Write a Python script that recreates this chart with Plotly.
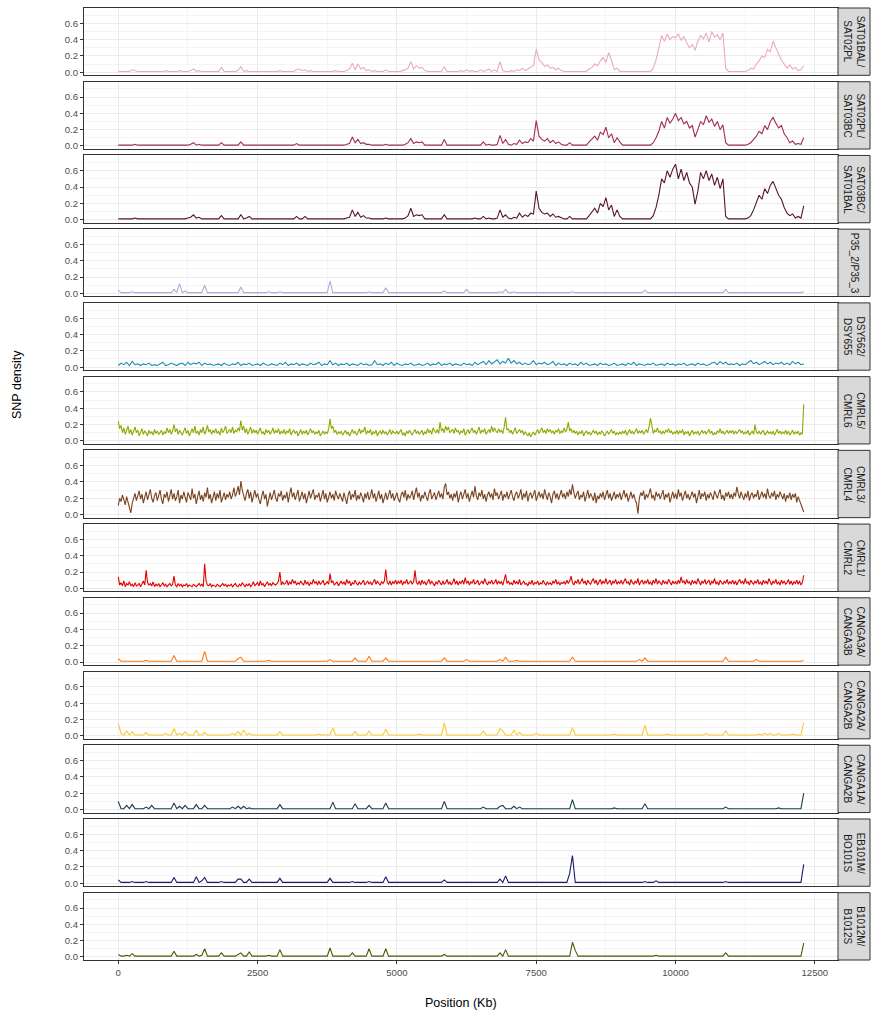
import plotly.graph_objects as go

# ---------------- data ----------------
# window start positions (Kb)
POS50 = list(range(0, 12301, 50))
POS25 = list(range(0, 12301, 25))

LABELS = [
    "SAT01BAL/<br>SAT02PL", "SAT02PL/<br>SAT03BC", "SAT03BC/<br>SAT01BAL",
    "P35_2/P35_3", "DSY562/<br>DSY655", "CMRL5/<br>CMRL6", "CMRL3/<br>CMRL4",
    "CMRL1/<br>CMRL2", "CANGA3A/<br>CANGA3B", "CANGA2A/<br>CANGA2B",
    "CANGA1A/<br>CANGA2B", "EB101M/<br>BO101S", "B1012M/<br>B1012S",
]

COLORS = ["#EBA9C4", "#A02B5C", "#561532", "#B9A6E0", "#1A8FAE", "#8BAA00",
          "#7A4320", "#E00000", "#FF7A12", "#FFC933", "#173F4C", "#1A1A72",
          "#4B5A00"]

SAT1 = [
    0.01,0.01,0.01,0.01,0.01,0.03,0.02,0.01,0.01,0.01,0.01,0.01,0.01,0.01,0.01,0.01,0.01,0.02,0.01,0.01,
    0.01,0.01,0.02,0.01,0.01,0.01,0.02,0.04,0.01,0.02,0.01,0.01,0.01,0.01,0.01,0.01,0.01,0.06,0.01,0.01,
    0.01,0.01,0.01,0.02,0.07,0.01,0.02,0.01,0.01,0.01,0.01,0.01,0.01,0.01,0.01,0.01,0.01,0.01,0.02,0.01,
    0.01,0.01,0.01,0.01,0.03,0.04,0.02,0.03,0.01,0.02,0.01,0.01,0.01,0.01,0.01,0.01,0.01,0.01,0.02,0.01,
    0.01,0.01,0.02,0.04,0.11,0.03,0.10,0.04,0.06,0.02,0.03,0.01,0.02,0.01,0.01,0.01,0.03,0.01,0.01,0.01,
    0.01,0.01,0.02,0.03,0.05,0.13,0.04,0.08,0.05,0.06,0.02,0.01,0.01,0.01,0.01,0.01,0.01,0.07,0.01,0.01,
    0.01,0.01,0.01,0.02,0.01,0.03,0.01,0.02,0.01,0.01,0.03,0.01,0.02,0.04,0.01,0.03,0.01,0.13,0.02,0.01,
    0.01,0.02,0.01,0.03,0.02,0.05,0.02,0.04,0.06,0.08,0.28,0.15,0.12,0.07,0.09,0.05,0.06,0.03,0.05,0.02,
    0.01,0.01,0.01,0.01,0.01,0.01,0.01,0.01,0.01,0.04,0.06,0.10,0.08,0.14,0.18,0.12,0.24,0.15,0.03,0.05,
    0.01,0.01,0.01,0.01,0.01,0.01,0.01,0.01,0.01,0.01,0.01,0.01,0.05,0.15,0.30,0.45,0.38,0.47,0.40,0.44,
    0.42,0.47,0.39,0.44,0.36,0.30,0.34,0.27,0.38,0.45,0.41,0.48,0.37,0.50,0.43,0.46,0.40,0.48,0.05,0.01,
    0.01,0.01,0.01,0.01,0.01,0.01,0.02,0.05,0.04,0.10,0.14,0.20,0.18,0.28,0.25,0.38,0.30,0.22,0.15,0.10,
    0.05,0.09,0.04,0.06,0.02,0.03,0.08]

SAT2 = [
    0.01,0.01,0.01,0.01,0.01,0.01,0.02,0.01,0.01,0.01,0.01,0.01,0.01,0.01,0.01,0.01,0.01,0.01,0.01,0.01,
    0.01,0.01,0.01,0.01,0.01,0.01,0.02,0.04,0.01,0.02,0.01,0.01,0.01,0.01,0.01,0.01,0.01,0.04,0.01,0.01,
    0.01,0.01,0.01,0.01,0.05,0.01,0.01,0.01,0.01,0.01,0.01,0.01,0.01,0.01,0.01,0.01,0.01,0.01,0.01,0.01,
    0.01,0.01,0.01,0.01,0.03,0.01,0.01,0.01,0.01,0.01,0.01,0.01,0.01,0.01,0.01,0.01,0.01,0.01,0.01,0.01,
    0.01,0.01,0.02,0.03,0.11,0.04,0.08,0.03,0.04,0.02,0.02,0.01,0.01,0.01,0.01,0.01,0.02,0.01,0.01,0.01,
    0.01,0.01,0.01,0.02,0.04,0.09,0.03,0.05,0.04,0.05,0.01,0.01,0.01,0.01,0.01,0.01,0.01,0.08,0.01,0.01,
    0.01,0.01,0.01,0.01,0.01,0.01,0.01,0.01,0.01,0.01,0.01,0.05,0.01,0.02,0.01,0.01,0.02,0.13,0.03,0.08,
    0.02,0.01,0.03,0.02,0.07,0.03,0.05,0.04,0.09,0.06,0.31,0.12,0.08,0.06,0.09,0.04,0.07,0.03,0.05,0.02,
    0.01,0.01,0.04,0.01,0.01,0.01,0.01,0.01,0.01,0.05,0.08,0.12,0.07,0.17,0.14,0.23,0.10,0.15,0.04,0.10,
    0.05,0.01,0.01,0.01,0.01,0.01,0.01,0.01,0.01,0.01,0.01,0.01,0.04,0.10,0.18,0.30,0.22,0.35,0.28,0.33,
    0.40,0.31,0.35,0.27,0.30,0.22,0.25,0.11,0.20,0.30,0.26,0.37,0.29,0.33,0.24,0.30,0.20,0.26,0.04,0.01,
    0.01,0.01,0.01,0.01,0.01,0.01,0.02,0.04,0.08,0.12,0.18,0.15,0.25,0.20,0.30,0.35,0.28,0.22,0.25,0.15,
    0.10,0.04,0.06,0.02,0.03,0.02,0.10]

SAT3 = [
    0.01,0.01,0.01,0.01,0.01,0.01,0.02,0.01,0.01,0.01,0.01,0.01,0.01,0.01,0.01,0.01,0.01,0.01,0.01,0.01,
    0.01,0.01,0.01,0.01,0.01,0.02,0.03,0.06,0.02,0.03,0.01,0.01,0.01,0.01,0.01,0.01,0.01,0.05,0.01,0.01,
    0.01,0.01,0.01,0.01,0.06,0.01,0.02,0.04,0.01,0.01,0.01,0.01,0.01,0.01,0.01,0.01,0.01,0.01,0.01,0.01,
    0.01,0.01,0.01,0.01,0.04,0.01,0.01,0.04,0.01,0.01,0.01,0.01,0.01,0.01,0.01,0.01,0.01,0.01,0.01,0.01,
    0.01,0.01,0.02,0.03,0.12,0.04,0.09,0.03,0.05,0.02,0.02,0.01,0.01,0.01,0.01,0.01,0.02,0.01,0.01,0.01,
    0.01,0.01,0.01,0.02,0.05,0.14,0.04,0.06,0.05,0.06,0.01,0.01,0.01,0.01,0.01,0.01,0.01,0.06,0.01,0.01,
    0.01,0.01,0.01,0.01,0.01,0.01,0.01,0.01,0.02,0.01,0.01,0.04,0.01,0.02,0.01,0.01,0.02,0.12,0.03,0.06,
    0.02,0.01,0.03,0.02,0.08,0.03,0.06,0.04,0.08,0.07,0.35,0.14,0.09,0.07,0.08,0.04,0.07,0.03,0.04,0.02,
    0.01,0.01,0.04,0.01,0.01,0.01,0.01,0.01,0.01,0.05,0.09,0.14,0.08,0.20,0.16,0.27,0.12,0.18,0.04,0.12,
    0.04,0.01,0.01,0.01,0.01,0.01,0.01,0.01,0.01,0.01,0.01,0.01,0.05,0.15,0.30,0.50,0.45,0.60,0.52,0.62,
    0.68,0.50,0.62,0.48,0.58,0.45,0.40,0.19,0.35,0.58,0.50,0.60,0.48,0.56,0.42,0.52,0.38,0.50,0.04,0.01,
    0.01,0.01,0.01,0.01,0.01,0.01,0.02,0.05,0.12,0.20,0.30,0.25,0.38,0.32,0.42,0.47,0.38,0.30,0.25,0.15,
    0.08,0.05,0.07,0.02,0.04,0.02,0.17]

P35 = [
    0.04,0.01,0.01,0.01,0.01,0.02,0.01,0.01,0.01,0.01,0.01,0.01,0.01,0.01,0.01,0.01,0.01,0.01,0.01,0.01,
    0.05,0.01,0.12,0.01,0.03,0.01,0.01,0.01,0.01,0.01,0.01,0.10,0.01,0.01,0.01,0.01,0.01,0.01,0.01,0.01,
    0.01,0.01,0.01,0.01,0.08,0.01,0.01,0.01,0.01,0.01,0.01,0.01,0.01,0.01,0.02,0.01,0.01,0.01,0.02,0.01,
    0.01,0.01,0.01,0.01,0.01,0.01,0.01,0.01,0.01,0.01,0.01,0.01,0.01,0.01,0.01,0.01,0.15,0.01,0.01,0.01,
    0.01,0.01,0.01,0.01,0.01,0.01,0.01,0.01,0.01,0.01,0.02,0.01,0.01,0.01,0.01,0.01,0.07,0.01,0.01,0.01,
    0.01,0.01,0.01,0.01,0.01,0.01,0.01,0.01,0.01,0.01,0.01,0.01,0.01,0.01,0.01,0.01,0.01,0.03,0.01,0.01,
    0.01,0.01,0.01,0.01,0.01,0.05,0.01,0.01,0.01,0.01,0.01,0.01,0.01,0.01,0.01,0.01,0.01,0.02,0.01,0.05,
    0.01,0.01,0.02,0.01,0.01,0.01,0.01,0.01,0.01,0.01,0.01,0.01,0.01,0.01,0.01,0.01,0.01,0.01,0.01,0.01,
    0.01,0.01,0.01,0.02,0.01,0.01,0.01,0.01,0.01,0.01,0.01,0.01,0.01,0.01,0.01,0.01,0.01,0.01,0.01,0.01,
    0.01,0.01,0.01,0.01,0.01,0.01,0.01,0.01,0.01,0.04,0.01,0.01,0.01,0.01,0.01,0.01,0.01,0.01,0.01,0.01,
    0.01,0.01,0.01,0.01,0.01,0.01,0.01,0.01,0.01,0.01,0.01,0.01,0.01,0.01,0.01,0.01,0.01,0.01,0.05,0.01,
    0.01,0.01,0.01,0.01,0.01,0.01,0.01,0.01,0.01,0.01,0.01,0.01,0.01,0.01,0.01,0.01,0.01,0.01,0.01,0.01,
    0.01,0.01,0.01,0.01,0.01,0.01,0.02]

DSY = [
    0.02,0.05,0.03,0.06,0.02,0.07,0.03,0.04,0.02,0.04,0.03,0.05,0.02,0.03,0.02,0.04,0.06,0.02,0.03,0.05,
    0.03,0.02,0.04,0.05,0.02,0.06,0.03,0.05,0.04,0.06,0.02,0.05,0.03,0.04,0.02,0.03,0.04,0.02,0.05,0.03,
    0.02,0.04,0.03,0.06,0.02,0.04,0.03,0.05,0.02,0.03,0.04,0.02,0.05,0.03,0.02,0.04,0.03,0.02,0.05,0.03,
    0.06,0.02,0.04,0.03,0.05,0.02,0.04,0.03,0.02,0.05,0.03,0.04,0.06,0.02,0.04,0.03,0.08,0.03,0.05,0.02,
    0.04,0.03,0.05,0.02,0.04,0.03,0.02,0.05,0.03,0.04,0.02,0.03,0.08,0.03,0.04,0.02,0.05,0.03,0.06,0.02,
    0.05,0.03,0.02,0.04,0.03,0.05,0.02,0.03,0.04,0.02,0.03,0.05,0.02,0.04,0.03,0.06,0.02,0.04,0.03,0.05,
    0.02,0.04,0.03,0.02,0.05,0.03,0.04,0.02,0.06,0.03,0.05,0.07,0.03,0.08,0.04,0.06,0.09,0.04,0.07,0.05,
    0.11,0.05,0.08,0.04,0.06,0.03,0.05,0.03,0.04,0.08,0.03,0.05,0.04,0.06,0.03,0.04,0.07,0.02,0.05,0.03,
    0.04,0.02,0.05,0.03,0.04,0.02,0.06,0.03,0.05,0.02,0.03,0.04,0.02,0.05,0.03,0.04,0.02,0.03,0.05,0.02,
    0.03,0.04,0.02,0.05,0.03,0.06,0.02,0.04,0.03,0.02,0.04,0.03,0.05,0.02,0.03,0.04,0.02,0.05,0.03,0.04,
    0.02,0.04,0.03,0.05,0.02,0.03,0.04,0.02,0.05,0.03,0.04,0.02,0.03,0.05,0.06,0.03,0.07,0.04,0.06,0.03,
    0.04,0.03,0.05,0.02,0.04,0.03,0.05,0.08,0.04,0.06,0.03,0.05,0.07,0.04,0.06,0.03,0.05,0.04,0.06,0.03,
    0.05,0.03,0.07,0.04,0.06,0.03,0.04]

# 25 Kb windows
CMRL5 = [
    0.24,0.15,0.19,0.10,0.16,0.08,0.13,0.18,0.09,0.14,0.07,0.12,0.17,0.10,0.13,0.06,0.11,0.15,0.08,0.12,
    0.10,0.06,0.13,0.09,0.11,0.07,0.14,0.09,0.12,0.08,0.10,0.13,0.07,0.11,0.09,0.16,0.10,0.14,0.08,0.12,
    0.20,0.11,0.15,0.08,0.13,0.10,0.07,0.12,0.16,0.09,0.13,0.06,0.11,0.15,0.10,0.18,0.09,0.12,0.07,0.14,
    0.10,0.17,0.08,0.12,0.19,0.11,0.14,0.08,0.13,0.10,0.15,0.09,0.12,0.07,0.16,0.10,0.13,0.18,0.09,0.12,
    0.14,0.10,0.17,0.09,0.13,0.11,0.16,0.12,0.25,0.13,0.18,0.10,0.15,0.08,0.12,0.17,0.09,0.14,0.10,0.13,
    0.08,0.12,0.16,0.09,0.11,0.07,0.14,0.10,0.13,0.08,0.11,0.16,0.09,0.13,0.10,0.15,0.08,0.12,0.09,0.14,
    0.08,0.12,0.10,0.15,0.07,0.11,0.13,0.09,0.12,0.06,0.10,0.14,0.08,0.12,0.09,0.13,0.07,0.11,0.15,0.10,
    0.12,0.08,0.11,0.09,0.13,0.06,0.10,0.12,0.08,0.11,0.09,0.14,0.27,0.15,0.18,0.10,0.13,0.08,0.11,0.09,
    0.12,0.07,0.10,0.13,0.08,0.11,0.06,0.10,0.14,0.09,0.12,0.07,0.10,0.15,0.09,0.13,0.11,0.17,0.08,0.12,
    0.10,0.14,0.07,0.11,0.09,0.13,0.06,0.10,0.12,0.08,0.13,0.09,0.11,0.07,0.10,0.14,0.08,0.12,0.10,0.09,
    0.12,0.08,0.11,0.14,0.07,0.10,0.06,0.12,0.09,0.13,0.10,0.07,0.11,0.14,0.09,0.12,0.08,0.10,0.13,0.07,
    0.11,0.09,0.15,0.10,0.13,0.08,0.16,0.12,0.10,0.14,0.09,0.23,0.12,0.15,0.10,0.18,0.13,0.17,0.10,0.12,
    0.14,0.09,0.16,0.11,0.13,0.08,0.12,0.10,0.15,0.07,0.11,0.14,0.09,0.12,0.16,0.10,0.13,0.08,0.12,0.17,
    0.09,0.13,0.11,0.15,0.08,0.12,0.14,0.10,0.18,0.11,0.16,0.12,0.10,0.15,0.11,0.13,0.09,0.17,0.29,0.13,
    0.15,0.10,0.13,0.08,0.12,0.16,0.09,0.11,0.14,0.10,0.13,0.07,0.11,0.09,0.06,0.10,0.05,0.08,0.11,0.07,
    0.10,0.14,0.09,0.12,0.16,0.10,0.13,0.09,0.15,0.11,0.14,0.10,0.12,0.08,0.13,0.11,0.15,0.09,0.12,0.10,
    0.16,0.11,0.14,0.23,0.12,0.15,0.10,0.13,0.09,0.12,0.07,0.11,0.09,0.13,0.06,0.10,0.12,0.08,0.11,0.07,
    0.10,0.13,0.09,0.12,0.07,0.11,0.08,0.12,0.10,0.06,0.09,0.12,0.08,0.11,0.14,0.09,0.12,0.07,0.10,0.08,
    0.11,0.08,0.12,0.09,0.13,0.07,0.10,0.14,0.09,0.12,0.08,0.11,0.15,0.09,0.12,0.10,0.13,0.08,0.11,0.14,
    0.10,0.17,0.28,0.15,0.09,0.13,0.11,0.16,0.10,0.12,0.08,0.12,0.09,0.13,0.11,0.15,0.10,0.12,0.08,0.11,
    0.09,0.13,0.08,0.12,0.10,0.14,0.07,0.11,0.09,0.12,0.06,0.10,0.13,0.08,0.11,0.09,0.12,0.07,0.10,0.13,
    0.09,0.12,0.08,0.11,0.14,0.09,0.12,0.07,0.10,0.08,0.12,0.10,0.15,0.09,0.12,0.08,0.11,0.13,0.09,0.12,
    0.10,0.13,0.08,0.12,0.09,0.11,0.14,0.10,0.12,0.08,0.11,0.09,0.13,0.07,0.10,0.12,0.08,0.20,0.11,0.09,
    0.12,0.08,0.11,0.13,0.07,0.10,0.12,0.09,0.11,0.08,0.12,0.07,0.10,0.14,0.09,0.12,0.08,0.11,0.09,0.13,
    0.08,0.12,0.07,0.10,0.13,0.08,0.11,0.09,0.12,0.07,0.10,0.08,0.45]

CMRL3 = [
    0.11,0.20,0.16,0.24,0.18,0.12,0.22,0.15,0.08,0.02,0.14,0.21,0.26,0.17,0.23,0.29,0.19,0.25,0.14,0.22,
    0.28,0.18,0.24,0.31,0.20,0.15,0.23,0.27,0.17,0.24,0.30,0.19,0.13,0.25,0.21,0.28,0.16,0.23,0.31,0.19,
    0.26,0.17,0.22,0.30,0.14,0.24,0.19,0.28,0.21,0.15,0.27,0.23,0.18,0.32,0.20,0.25,0.13,0.22,0.29,0.18,
    0.24,0.16,0.27,0.21,0.33,0.19,0.25,0.14,0.22,0.28,0.17,0.26,0.20,0.30,0.15,0.23,0.27,0.18,0.25,0.21,
    0.28,0.19,0.24,0.33,0.22,0.27,0.35,0.24,0.41,0.30,0.22,0.17,0.26,0.31,0.20,0.28,0.15,0.24,0.30,0.21,
    0.26,0.18,0.13,0.23,0.29,0.19,0.25,0.10,0.21,0.27,0.18,0.24,0.30,0.20,0.16,0.26,0.22,0.29,0.17,0.24,
    0.20,0.28,0.15,0.25,0.33,0.21,0.27,0.18,0.24,0.30,0.16,0.23,0.28,0.19,0.26,0.14,0.22,0.29,0.20,0.25,
    0.31,0.18,0.24,0.21,0.27,0.16,0.23,0.30,0.19,0.26,0.15,0.22,0.28,0.20,0.25,0.17,0.29,0.23,0.19,0.26,
    0.22,0.16,0.27,0.20,0.13,0.24,0.29,0.18,0.25,0.21,0.30,0.17,0.24,0.19,0.27,0.22,0.15,0.26,0.20,0.28,
    0.18,0.23,0.31,0.20,0.26,0.16,0.24,0.29,0.19,0.25,0.14,0.22,0.27,0.18,0.24,0.30,0.20,0.26,0.17,0.23,
    0.27,0.19,0.15,0.24,0.28,0.21,0.30,0.17,0.25,0.20,0.23,0.29,0.18,0.26,0.33,0.21,0.27,0.16,0.24,0.20,
    0.28,0.22,0.17,0.26,0.31,0.19,0.24,0.27,0.18,0.23,0.29,0.21,0.26,0.19,0.34,0.38,0.24,0.28,0.20,0.25,
    0.17,0.26,0.21,0.29,0.15,0.23,0.28,0.19,0.25,0.31,0.20,0.26,0.16,0.24,0.29,0.21,0.35,0.23,0.18,0.27,
    0.22,0.30,0.19,0.25,0.16,0.24,0.28,0.21,0.26,0.18,0.32,0.23,0.27,0.19,0.24,0.29,0.17,0.25,0.21,0.28,
    0.19,0.26,0.30,0.22,0.17,0.25,0.28,0.20,0.24,0.31,0.18,0.26,0.21,0.29,0.16,0.24,0.27,0.20,0.25,0.30,
    0.17,0.23,0.28,0.21,0.26,0.19,0.31,0.24,0.18,0.27,0.22,0.14,0.25,0.29,0.20,0.26,0.18,0.24,0.30,0.21,
    0.26,0.19,0.28,0.22,0.31,0.24,0.37,0.27,0.20,0.25,0.29,0.18,0.24,0.21,0.28,0.16,0.25,0.30,0.20,0.26,
    0.22,0.17,0.27,0.14,0.23,0.19,0.26,0.21,0.28,0.18,0.24,0.30,0.20,0.26,0.17,0.23,0.28,0.19,0.25,0.21,
    0.27,0.18,0.24,0.30,0.21,0.26,0.16,0.23,0.28,0.20,0.25,0.18,0.14,0.01,0.20,0.27,0.23,0.29,0.18,0.25,
    0.21,0.26,0.32,0.20,0.24,0.17,0.28,0.22,0.26,0.19,0.24,0.30,0.18,0.25,0.21,0.27,0.15,0.23,0.28,0.20,
    0.26,0.19,0.31,0.22,0.27,0.17,0.24,0.29,0.20,0.25,0.18,0.23,0.28,0.21,0.26,0.14,0.24,0.30,0.19,0.26,
    0.22,0.28,0.17,0.25,0.20,0.27,0.23,0.18,0.29,0.24,0.20,0.26,0.31,0.19,0.24,0.17,0.27,0.22,0.28,0.20,
    0.25,0.19,0.27,0.22,0.34,0.26,0.20,0.28,0.23,0.18,0.26,0.21,0.29,0.17,0.24,0.27,0.20,0.25,0.22,0.30,
    0.18,0.24,0.28,0.21,0.26,0.19,0.32,0.23,0.20,0.27,0.22,0.29,0.18,0.25,0.21,0.28,0.24,0.19,0.26,0.16,
    0.24,0.20,0.27,0.18,0.25,0.21,0.26,0.15,0.22,0.18,0.12,0.08,0.03]

CMRL1 = [
    0.14,0.04,0.07,0.03,0.09,0.02,0.06,0.04,0.08,0.03,0.05,0.02,0.07,0.03,0.04,0.06,0.02,0.05,0.09,0.04,
    0.22,0.07,0.04,0.06,0.03,0.08,0.02,0.05,0.03,0.06,0.02,0.04,0.07,0.03,0.05,0.02,0.04,0.06,0.03,0.05,
    0.15,0.04,0.02,0.06,0.03,0.05,0.02,0.04,0.03,0.06,0.02,0.04,0.03,0.02,0.05,0.03,0.02,0.04,0.06,0.03,
    0.05,0.02,0.30,0.09,0.04,0.03,0.06,0.02,0.04,0.03,0.02,0.05,0.03,0.02,0.04,0.06,0.03,0.05,0.02,0.04,
    0.03,0.05,0.02,0.04,0.06,0.03,0.02,0.05,0.03,0.07,0.04,0.02,0.05,0.03,0.06,0.02,0.04,0.08,0.03,0.05,
    0.07,0.03,0.09,0.04,0.06,0.02,0.05,0.08,0.04,0.06,0.03,0.07,0.05,0.04,0.06,0.09,0.20,0.04,0.08,0.05,
    0.06,0.10,0.04,0.08,0.05,0.11,0.06,0.09,0.04,0.07,0.05,0.09,0.06,0.04,0.10,0.05,0.08,0.03,0.07,0.05,
    0.11,0.06,0.08,0.04,0.09,0.05,0.07,0.10,0.04,0.06,0.08,0.05,0.18,0.07,0.09,0.04,0.06,0.08,0.03,0.07,
    0.09,0.05,0.08,0.04,0.11,0.06,0.09,0.03,0.07,0.05,0.10,0.06,0.04,0.08,0.05,0.07,0.10,0.04,0.06,0.09,
    0.05,0.08,0.04,0.07,0.11,0.05,0.09,0.06,0.04,0.08,0.06,0.09,0.23,0.07,0.05,0.09,0.04,0.08,0.06,0.10,
    0.05,0.09,0.06,0.10,0.04,0.08,0.06,0.11,0.05,0.07,0.09,0.05,0.08,0.22,0.07,0.05,0.09,0.04,0.10,0.06,
    0.08,0.04,0.07,0.11,0.05,0.09,0.06,0.03,0.08,0.05,0.10,0.06,0.04,0.09,0.05,0.07,0.11,0.05,0.08,0.04,
    0.07,0.12,0.05,0.09,0.04,0.08,0.06,0.10,0.05,0.13,0.06,0.09,0.04,0.08,0.06,0.11,0.05,0.07,0.10,0.04,
    0.06,0.09,0.05,0.12,0.07,0.04,0.08,0.06,0.10,0.05,0.07,0.11,0.05,0.09,0.06,0.08,0.04,0.10,0.17,0.06,
    0.09,0.05,0.07,0.04,0.10,0.06,0.08,0.05,0.11,0.04,0.07,0.09,0.05,0.06,0.03,0.08,0.05,0.10,0.04,0.07,
    0.06,0.09,0.04,0.07,0.05,0.10,0.06,0.04,0.08,0.05,0.07,0.04,0.09,0.06,0.11,0.05,0.08,0.04,0.07,0.06,
    0.08,0.05,0.10,0.06,0.09,0.15,0.07,0.04,0.09,0.06,0.11,0.05,0.08,0.12,0.06,0.09,0.04,0.10,0.07,0.05,
    0.09,0.12,0.06,0.10,0.04,0.08,0.11,0.05,0.09,0.06,0.12,0.05,0.08,0.10,0.04,0.09,0.06,0.11,0.05,0.08,
    0.06,0.10,0.05,0.09,0.12,0.06,0.08,0.04,0.11,0.07,0.05,0.09,0.06,0.12,0.04,0.08,0.10,0.05,0.09,0.06,
    0.11,0.05,0.08,0.04,0.10,0.06,0.12,0.05,0.09,0.07,0.04,0.10,0.06,0.08,0.05,0.11,0.07,0.04,0.09,0.06,
    0.08,0.05,0.10,0.06,0.14,0.07,0.09,0.05,0.11,0.06,0.08,0.04,0.10,0.06,0.09,0.05,0.12,0.07,0.04,0.09,
    0.06,0.11,0.05,0.08,0.10,0.04,0.09,0.06,0.12,0.05,0.08,0.04,0.10,0.07,0.05,0.09,0.06,0.11,0.05,0.08,
    0.06,0.10,0.05,0.09,0.04,0.08,0.11,0.06,0.09,0.05,0.12,0.06,0.08,0.04,0.10,0.07,0.05,0.09,0.06,0.11,
    0.05,0.08,0.04,0.10,0.06,0.09,0.05,0.12,0.07,0.04,0.09,0.06,0.11,0.05,0.08,0.04,0.10,0.06,0.09,0.05,
    0.07,0.11,0.05,0.09,0.04,0.08,0.06,0.10,0.05,0.09,0.04,0.07,0.16]

CANGA3 = [
    0.04,0.01,0.01,0.01,0.01,0.01,0.01,0.01,0.01,0.01,0.02,0.01,0.01,0.01,0.01,0.01,0.01,0.01,0.01,0.01,
    0.08,0.01,0.01,0.01,0.01,0.01,0.01,0.01,0.01,0.01,0.01,0.13,0.01,0.01,0.01,0.01,0.01,0.01,0.01,0.01,
    0.01,0.01,0.01,0.04,0.06,0.01,0.01,0.01,0.01,0.01,0.01,0.01,0.01,0.01,0.02,0.01,0.01,0.01,0.01,0.01,
    0.01,0.01,0.01,0.01,0.01,0.01,0.01,0.01,0.01,0.01,0.01,0.01,0.01,0.01,0.01,0.01,0.03,0.01,0.01,0.01,
    0.01,0.01,0.01,0.01,0.01,0.05,0.01,0.01,0.01,0.01,0.07,0.01,0.01,0.01,0.01,0.01,0.05,0.01,0.01,0.01,
    0.01,0.01,0.01,0.01,0.01,0.01,0.01,0.01,0.01,0.01,0.01,0.01,0.01,0.01,0.01,0.01,0.01,0.05,0.01,0.01,
    0.01,0.01,0.01,0.01,0.01,0.03,0.01,0.01,0.01,0.01,0.01,0.01,0.01,0.01,0.01,0.01,0.01,0.03,0.01,0.06,
    0.01,0.01,0.01,0.02,0.01,0.01,0.01,0.01,0.01,0.01,0.01,0.01,0.01,0.01,0.01,0.01,0.01,0.01,0.01,0.01,
    0.01,0.01,0.01,0.06,0.01,0.01,0.01,0.01,0.01,0.01,0.01,0.01,0.01,0.01,0.01,0.01,0.01,0.01,0.01,0.01,
    0.01,0.01,0.01,0.01,0.01,0.01,0.01,0.03,0.01,0.05,0.01,0.01,0.01,0.01,0.01,0.01,0.01,0.01,0.01,0.01,
    0.01,0.01,0.01,0.01,0.01,0.01,0.01,0.01,0.01,0.01,0.01,0.01,0.01,0.01,0.01,0.01,0.01,0.01,0.06,0.01,
    0.01,0.01,0.01,0.01,0.01,0.01,0.01,0.01,0.01,0.03,0.01,0.01,0.01,0.01,0.01,0.01,0.01,0.01,0.01,0.01,
    0.01,0.01,0.01,0.01,0.01,0.01,0.02]

CANGA2 = [
    0.15,0.03,0.01,0.06,0.01,0.05,0.01,0.01,0.01,0.01,0.04,0.01,0.01,0.01,0.01,0.01,0.01,0.03,0.01,0.01,
    0.09,0.01,0.03,0.01,0.05,0.01,0.01,0.01,0.07,0.01,0.01,0.04,0.01,0.01,0.01,0.01,0.01,0.01,0.01,0.01,
    0.01,0.03,0.01,0.05,0.01,0.07,0.01,0.03,0.01,0.01,0.01,0.01,0.01,0.01,0.01,0.01,0.01,0.01,0.05,0.01,
    0.01,0.01,0.01,0.01,0.01,0.01,0.01,0.01,0.01,0.01,0.01,0.01,0.02,0.01,0.01,0.01,0.01,0.10,0.01,0.01,
    0.01,0.01,0.01,0.01,0.01,0.05,0.01,0.01,0.01,0.01,0.06,0.01,0.01,0.01,0.01,0.01,0.08,0.01,0.01,0.01,
    0.01,0.01,0.01,0.01,0.01,0.01,0.01,0.01,0.02,0.01,0.01,0.01,0.01,0.01,0.01,0.01,0.01,0.16,0.01,0.01,
    0.01,0.01,0.01,0.01,0.01,0.01,0.01,0.01,0.01,0.01,0.01,0.06,0.01,0.01,0.01,0.01,0.01,0.09,0.06,0.01,
    0.01,0.01,0.07,0.01,0.04,0.01,0.01,0.01,0.01,0.01,0.03,0.01,0.01,0.01,0.01,0.01,0.01,0.01,0.01,0.01,
    0.01,0.01,0.01,0.10,0.01,0.01,0.01,0.01,0.01,0.01,0.01,0.01,0.01,0.01,0.01,0.01,0.01,0.01,0.02,0.01,
    0.01,0.01,0.01,0.01,0.01,0.01,0.01,0.01,0.01,0.13,0.01,0.01,0.01,0.01,0.01,0.01,0.01,0.02,0.01,0.01,
    0.01,0.01,0.01,0.01,0.01,0.01,0.01,0.01,0.01,0.01,0.01,0.03,0.01,0.01,0.01,0.01,0.01,0.01,0.06,0.01,
    0.01,0.01,0.01,0.01,0.01,0.01,0.01,0.01,0.01,0.01,0.02,0.01,0.03,0.01,0.03,0.01,0.01,0.03,0.01,0.01,
    0.01,0.01,0.02,0.01,0.01,0.01,0.16]

CANGA1 = [
    0.10,0.01,0.01,0.05,0.01,0.06,0.01,0.01,0.01,0.01,0.03,0.01,0.05,0.01,0.01,0.01,0.01,0.01,0.01,0.01,
    0.08,0.01,0.04,0.01,0.05,0.01,0.01,0.01,0.06,0.01,0.01,0.05,0.01,0.01,0.01,0.01,0.01,0.01,0.01,0.01,
    0.01,0.03,0.01,0.04,0.01,0.04,0.01,0.02,0.01,0.01,0.01,0.01,0.01,0.01,0.01,0.01,0.01,0.01,0.06,0.01,
    0.01,0.01,0.01,0.01,0.01,0.01,0.01,0.01,0.01,0.01,0.01,0.01,0.01,0.01,0.01,0.01,0.01,0.09,0.01,0.01,
    0.01,0.01,0.01,0.01,0.01,0.07,0.01,0.01,0.01,0.01,0.05,0.01,0.01,0.01,0.01,0.01,0.08,0.01,0.01,0.01,
    0.01,0.01,0.01,0.01,0.01,0.01,0.01,0.01,0.01,0.01,0.01,0.01,0.01,0.01,0.01,0.01,0.01,0.10,0.01,0.01,
    0.01,0.01,0.01,0.01,0.01,0.01,0.01,0.01,0.01,0.01,0.01,0.03,0.01,0.01,0.01,0.01,0.01,0.04,0.05,0.01,
    0.01,0.01,0.04,0.01,0.03,0.01,0.01,0.01,0.01,0.01,0.01,0.01,0.01,0.01,0.01,0.01,0.01,0.01,0.01,0.01,
    0.01,0.01,0.01,0.12,0.01,0.01,0.01,0.01,0.01,0.01,0.01,0.01,0.01,0.01,0.01,0.01,0.01,0.01,0.02,0.01,
    0.01,0.01,0.01,0.01,0.01,0.01,0.01,0.01,0.01,0.07,0.01,0.01,0.01,0.01,0.01,0.01,0.01,0.01,0.01,0.01,
    0.01,0.01,0.01,0.01,0.01,0.01,0.01,0.01,0.01,0.01,0.01,0.01,0.01,0.01,0.01,0.01,0.01,0.01,0.03,0.01,
    0.01,0.01,0.01,0.01,0.01,0.01,0.01,0.01,0.01,0.01,0.01,0.01,0.01,0.01,0.01,0.01,0.01,0.02,0.01,0.01,
    0.01,0.01,0.01,0.01,0.01,0.01,0.20]

EB101 = [
    0.04,0.01,0.01,0.01,0.01,0.02,0.01,0.01,0.01,0.01,0.02,0.01,0.01,0.01,0.01,0.01,0.01,0.01,0.01,0.01,
    0.07,0.01,0.01,0.01,0.01,0.01,0.01,0.01,0.08,0.01,0.03,0.07,0.01,0.01,0.01,0.01,0.01,0.02,0.01,0.01,
    0.01,0.01,0.01,0.05,0.05,0.01,0.01,0.05,0.01,0.01,0.01,0.01,0.01,0.01,0.01,0.01,0.01,0.01,0.06,0.01,
    0.01,0.01,0.01,0.01,0.01,0.01,0.01,0.01,0.01,0.01,0.01,0.01,0.01,0.01,0.01,0.01,0.06,0.01,0.01,0.01,
    0.01,0.01,0.01,0.01,0.02,0.01,0.01,0.01,0.01,0.01,0.02,0.01,0.01,0.01,0.01,0.01,0.08,0.01,0.01,0.01,
    0.01,0.01,0.01,0.01,0.01,0.01,0.01,0.01,0.01,0.01,0.01,0.01,0.01,0.01,0.01,0.01,0.01,0.04,0.01,0.01,
    0.01,0.01,0.01,0.01,0.01,0.01,0.01,0.01,0.01,0.01,0.01,0.01,0.01,0.01,0.01,0.01,0.01,0.05,0.01,0.09,
    0.01,0.01,0.01,0.01,0.01,0.01,0.01,0.01,0.01,0.01,0.01,0.01,0.01,0.01,0.01,0.01,0.01,0.01,0.01,0.01,
    0.01,0.01,0.12,0.34,0.01,0.01,0.01,0.01,0.01,0.01,0.01,0.01,0.01,0.01,0.01,0.01,0.01,0.01,0.01,0.01,
    0.01,0.01,0.01,0.01,0.01,0.01,0.01,0.01,0.01,0.02,0.01,0.01,0.01,0.03,0.01,0.01,0.01,0.01,0.01,0.01,
    0.01,0.01,0.01,0.01,0.01,0.01,0.01,0.01,0.01,0.01,0.01,0.01,0.01,0.01,0.01,0.01,0.01,0.01,0.02,0.01,
    0.01,0.01,0.01,0.01,0.01,0.01,0.01,0.01,0.01,0.01,0.01,0.01,0.01,0.01,0.01,0.01,0.01,0.01,0.01,0.01,
    0.01,0.01,0.01,0.01,0.01,0.01,0.23]

B1012 = [
    0.03,0.01,0.01,0.02,0.01,0.04,0.01,0.01,0.01,0.01,0.01,0.01,0.01,0.01,0.01,0.01,0.01,0.01,0.01,0.01,
    0.07,0.01,0.01,0.01,0.01,0.01,0.01,0.01,0.03,0.01,0.02,0.10,0.01,0.01,0.01,0.01,0.01,0.05,0.01,0.01,
    0.01,0.01,0.01,0.03,0.05,0.01,0.01,0.06,0.01,0.01,0.01,0.01,0.01,0.01,0.02,0.01,0.01,0.01,0.09,0.01,
    0.01,0.01,0.01,0.01,0.01,0.01,0.01,0.01,0.01,0.01,0.01,0.01,0.01,0.01,0.01,0.01,0.11,0.01,0.01,0.01,
    0.01,0.01,0.01,0.01,0.05,0.01,0.01,0.01,0.01,0.01,0.10,0.01,0.01,0.01,0.01,0.01,0.10,0.01,0.01,0.01,
    0.01,0.01,0.01,0.01,0.01,0.01,0.01,0.01,0.01,0.01,0.01,0.01,0.01,0.01,0.01,0.01,0.01,0.03,0.01,0.01,
    0.01,0.01,0.01,0.01,0.01,0.01,0.01,0.01,0.01,0.01,0.01,0.01,0.01,0.01,0.01,0.01,0.01,0.05,0.01,0.09,
    0.01,0.01,0.01,0.01,0.01,0.01,0.01,0.01,0.01,0.01,0.01,0.01,0.01,0.01,0.01,0.01,0.01,0.01,0.01,0.01,
    0.01,0.01,0.01,0.18,0.08,0.01,0.01,0.01,0.01,0.01,0.01,0.01,0.01,0.01,0.01,0.01,0.01,0.01,0.01,0.01,
    0.01,0.01,0.01,0.01,0.01,0.01,0.01,0.01,0.01,0.01,0.01,0.01,0.01,0.02,0.01,0.01,0.01,0.01,0.01,0.01,
    0.01,0.01,0.01,0.01,0.01,0.01,0.01,0.01,0.01,0.01,0.01,0.01,0.01,0.01,0.01,0.01,0.01,0.01,0.05,0.01,
    0.01,0.01,0.01,0.01,0.01,0.01,0.01,0.01,0.01,0.01,0.01,0.01,0.01,0.01,0.01,0.01,0.01,0.01,0.01,0.01,
    0.01,0.01,0.01,0.01,0.01,0.01,0.17]

SERIES = [
    (POS50, SAT1), (POS50, SAT2), (POS50, SAT3), (POS50, P35), (POS50, DSY),
    (POS25, CMRL5), (POS25, CMRL3), (POS25, CMRL1),
    (POS50, CANGA3), (POS50, CANGA2), (POS50, CANGA1), (POS50, EB101), (POS50, B1012),
]

Y_TICKS = [0, 0.2, 0.4, 0.6]
Y_TICK_TEXT = ["0.0", "0.2", "0.4", "0.6"]
X_TICKS = [0, 2500, 5000, 7500, 10000, 12500]
X_TICK_TEXT = ["0", "2500", "5000", "7500", "10000", "12500"]

# ---------------- layout geometry ----------------
W, H = 872, 1015
ML, MR, MT, MB = 84, 34, 8, 55
PH = H - MT - MB
PW = W - ML - MR
STRIDE = 73.725
PANEL_H = 67.3
N = len(SERIES)

FONT = "Liberation Sans, Arial, sans-serif"

fig = go.Figure()
layout = dict(
    width=W, height=H,
    margin=dict(l=ML, r=MR, t=MT, b=MB),
    paper_bgcolor="white", plot_bgcolor="white",
    showlegend=False,
    font=dict(family=FONT, color="#4D4D4D"),
)
shapes = []
annotations = []

for i, ((xs, ys), col, lab) in enumerate(zip(SERIES, COLORS, LABELS)):
    k = i + 1
    sfx = "" if k == 1 else str(k)
    top_px = i * STRIDE
    bot_px = top_px + PANEL_H
    d1 = 1 - top_px / PH
    d0 = 1 - bot_px / PH
    fig.add_trace(go.Scatter(
        x=xs[:len(ys)], y=ys, mode="lines",
        line=dict(color=col, width=1.1),
        xaxis="x" + sfx, yaxis="y" + sfx, hoverinfo="skip",
    ))
    last = (k == N)
    layout["xaxis" + sfx] = dict(
        domain=[0, 1], anchor="y" + sfx,
        range=[-615, 12915],
        tickvals=X_TICKS, ticktext=X_TICK_TEXT,
        showticklabels=last,
        ticks="outside" if last else "", ticklen=3, tickwidth=1, tickcolor="#333333",
        tickfont=dict(size=9.6, color="#4D4D4D", family=FONT),
        showgrid=True, gridcolor="#EBEBEB", gridwidth=1,
        minor=dict(dtick=1250, tick0=0, showgrid=True, gridcolor="#F4F4F4", gridwidth=0.8),
        zeroline=False,
        showline=True, mirror=True, linecolor="#333333", linewidth=1,
    )
    if k > 1:
        layout["xaxis" + sfx]["matches"] = "x"
    layout["yaxis" + sfx] = dict(
        domain=[d0, d1], anchor="x" + sfx,
        range=[-0.0375, 0.7875],
        tickvals=Y_TICKS, ticktext=Y_TICK_TEXT,
        ticks="outside", ticklen=3, tickwidth=1, tickcolor="#333333",
        tickfont=dict(size=9.6, color="#4D4D4D", family=FONT),
        showgrid=True, gridcolor="#EBEBEB", gridwidth=1,
        minor=dict(dtick=0.1, tick0=0, showgrid=True, gridcolor="#F4F4F4", gridwidth=0.8),
        zeroline=False,
        showline=True, mirror=True, linecolor="#333333", linewidth=1,
    )
    sx0 = 1.0
    sx1 = 1.0 + 32 / PW
    shapes.append(dict(
        type="rect", xref="paper", yref="paper",
        x0=sx0, x1=sx1, y0=d0, y1=d1,
        fillcolor="#D9D9D9", line=dict(color="#333333", width=1), layer="above",
    ))
    annotations.append(dict(
        xref="paper", yref="paper", x=(sx0 + sx1) / 2, y=(d0 + d1) / 2,
        text=lab, textangle=90, showarrow=False,
        xanchor="center", yanchor="middle",
        font=dict(size=10, color="#1A1A1A", family=FONT),
    ))

annotations.append(dict(
    xref="paper", yref="paper", x=(17 - ML) / PW, y=1 - (385 - MT) / PH,
    text="SNP density", textangle=-90, showarrow=False,
    xanchor="center", yanchor="middle",
    font=dict(size=12.5, color="black", family=FONT),
))
annotations.append(dict(
    xref="paper", yref="paper", x=0.5, y=-(1003 - (H - MB)) / PH,
    text="Position (Kb)", showarrow=False,
    xanchor="center", yanchor="middle",
    font=dict(size=12.5, color="black", family=FONT),
))

layout["shapes"] = shapes
layout["annotations"] = annotations
fig.update_layout(**layout)
fig.write_html("out.html")
